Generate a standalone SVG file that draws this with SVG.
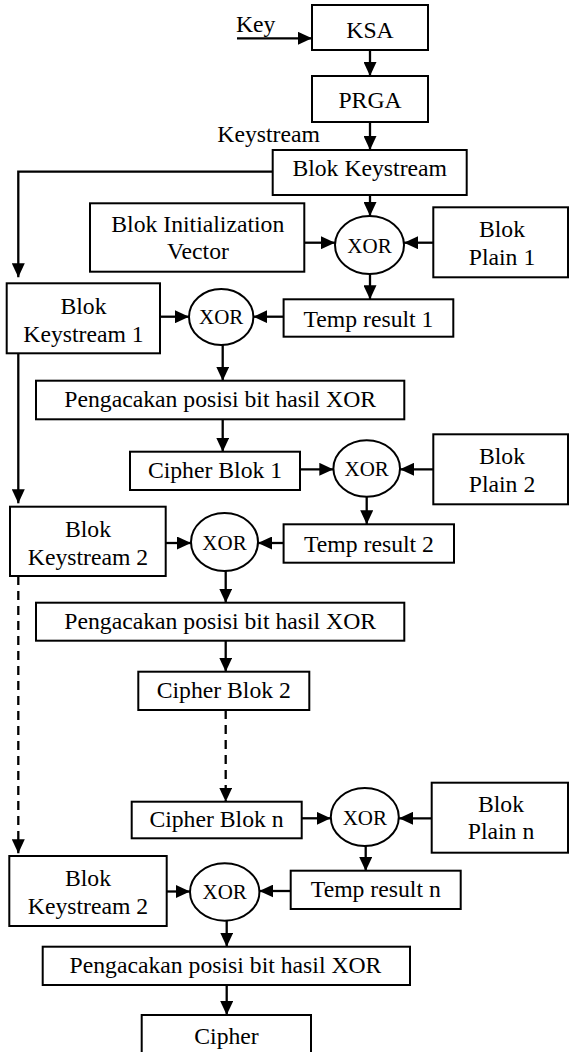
<svg xmlns="http://www.w3.org/2000/svg" width="570" height="1052" viewBox="0 0 570 1052" font-family="Liberation Serif, serif">
<style>
.box{fill:#fff;stroke:#000;stroke-width:2}
.t{font-family:"Liberation Serif",serif;font-size:23.7px;text-anchor:middle;fill:#000}
.x{font-size:21px}
.s{text-anchor:start}
.c{stroke:#000;stroke-width:2.3;fill:none;marker-end:url(#ah)}
.d{stroke-dasharray:9 6}
</style>
<defs>
<marker id="ah" markerUnits="userSpaceOnUse" markerWidth="14" markerHeight="13" refX="14" refY="6.5" orient="auto">
<path d="M0,0 L14,6.5 L0,13 z" fill="#000"/>
</marker>
</defs>
<rect width="570" height="1052" fill="#fff"/>
<g id="connectors">
<line class="c" x1="237" y1="38.3" x2="312" y2="38.3"/>
<line class="c" x1="370" y1="50" x2="370" y2="76"/>
<line class="c" x1="370" y1="122" x2="370" y2="150"/>
<line class="c" x1="370" y1="195" x2="370" y2="216"/>
<polyline class="c" points="272.7,171.7 18.3,171.7 18.3,277.3"/>
<line class="c" x1="304.3" y1="242.7" x2="335" y2="242.7"/>
<line class="c" x1="433.3" y1="242.7" x2="404" y2="242.7"/>
<line class="c" x1="370" y1="274" x2="370" y2="299.3"/>
<line class="c" x1="160" y1="316.7" x2="189" y2="316.7"/>
<line class="c" x1="283.6" y1="316.7" x2="253.3" y2="316.7"/>
<line class="c" x1="222.7" y1="345" x2="222.7" y2="380.7"/>
<line class="c" x1="222.7" y1="419.3" x2="222.7" y2="451.7"/>
<line class="c" x1="18.3" y1="353.3" x2="18.3" y2="503.3"/>
<line class="c" x1="300" y1="469.3" x2="333.3" y2="469.3"/>
<line class="c" x1="433.3" y1="469.3" x2="400" y2="469.3"/>
<line class="c" x1="366.7" y1="496.7" x2="366.7" y2="524.3"/>
<line class="c" x1="165.7" y1="543" x2="191" y2="543"/>
<line class="c" x1="283.6" y1="543" x2="258" y2="543"/>
<line class="c" x1="225.7" y1="571" x2="225.7" y2="602.7"/>
<line class="c" x1="225.7" y1="640.7" x2="225.7" y2="671.7"/>
<line class="c d" x1="225.7" y1="710" x2="225.7" y2="801.7"/>
<line class="c d" x1="18.3" y1="576" x2="18.3" y2="853.3"/>
<line class="c" x1="301.7" y1="818.3" x2="330.7" y2="818.3"/>
<line class="c" x1="431.7" y1="818.3" x2="399" y2="818.3"/>
<line class="c" x1="365.7" y1="846" x2="365.7" y2="871"/>
<line class="c" x1="166.7" y1="891.5" x2="190" y2="891.5"/>
<line class="c" x1="290.7" y1="891" x2="259.3" y2="891"/>
<line class="c" x1="226.7" y1="920.7" x2="226.7" y2="946.7"/>
<line class="c" x1="226.7" y1="985" x2="226.7" y2="1015"/>
</g>
<g id="labels">
<text class="t s" x="236" y="32">Key</text>
<text class="t s" x="217.3" y="141.7">Keystream</text>
</g>
<g id="ksa"><rect class="box" x="312" y="5" width="116" height="45"/><text class="t" x="370" y="37.5">KSA</text></g>
<g id="prga"><rect class="box" x="312" y="76" width="116" height="46"/><text class="t" x="370" y="108.3">PRGA</text></g>
<g id="blok-keystream"><rect class="box" x="272.7" y="150" width="194" height="45"/><text class="t" x="369.7" y="176">Blok Keystream</text></g>
<g id="blok-iv"><rect class="box" x="90" y="203.3" width="214.3" height="68.4"/><text class="t" x="197.8" y="231.7">Blok Initialization</text><text class="t" x="198" y="259.3">Vector</text></g>
<g id="xor1"><ellipse class="box" cx="369.5" cy="245" rx="34.5" ry="29"/><text class="t x" x="369.5" y="252.5">XOR</text></g>
<g id="blok-plain-1"><rect class="box" x="433.3" y="207.3" width="134.7" height="70"/><text class="t" x="502" y="236.7">Blok</text><text class="t" x="502" y="265">Plain 1</text></g>
<g id="blok-keystream-1"><rect class="box" x="6.7" y="283.3" width="153.3" height="70"/><text class="t" x="83.5" y="314">Blok</text><text class="t" x="83.5" y="341.7">Keystream 1</text></g>
<g id="xor2"><ellipse class="box" cx="221.2" cy="317" rx="32.2" ry="28"/><text class="t x" x="221.2" y="324">XOR</text></g>
<g id="temp-result-1"><rect class="box" x="283.6" y="299.3" width="169.7" height="37.4"/><text class="t" x="368.5" y="326.7">Temp result 1</text></g>
<g id="pengacakan-1"><rect class="box" x="36" y="380.7" width="368.3" height="38.6"/><text class="t" x="220.2" y="406.5">Pengacakan posisi bit hasil XOR</text></g>
<g id="cipher-blok-1"><rect class="box" x="130" y="451.7" width="170" height="38.3"/><text class="t" x="215" y="478.3">Cipher Blok 1</text></g>
<g id="xor3"><ellipse class="box" cx="366.7" cy="468.5" rx="33.3" ry="28.3"/><text class="t x" x="366.7" y="476">XOR</text></g>
<g id="blok-plain-2"><rect class="box" x="433.3" y="434.3" width="134.7" height="70"/><text class="t" x="502" y="464">Blok</text><text class="t" x="502" y="491.7">Plain 2</text></g>
<g id="blok-keystream-2"><rect class="box" x="10" y="506.7" width="155.7" height="69.3"/><text class="t" x="88" y="536.7">Blok</text><text class="t" x="88" y="565">Keystream 2</text></g>
<g id="xor5"><ellipse class="box" cx="224.5" cy="542" rx="33.5" ry="29"/><text class="t x" x="224.5" y="549.5">XOR</text></g>
<g id="temp-result-2"><rect class="box" x="283.6" y="524.3" width="170.4" height="38.4"/><text class="t" x="369" y="552">Temp result 2</text></g>
<g id="pengacakan-2"><rect class="box" x="36" y="602.7" width="368.3" height="38"/><text class="t" x="220.2" y="628.5">Pengacakan posisi bit hasil XOR</text></g>
<g id="cipher-blok-2"><rect class="box" x="138.3" y="671.7" width="171" height="38.3"/><text class="t" x="223.8" y="698.3">Cipher Blok 2</text></g>
<g id="cipher-blok-n"><rect class="box" x="131.7" y="801.7" width="170" height="36.6"/><text class="t" x="216.5" y="826.7">Cipher Blok n</text></g>
<g id="xor4"><ellipse class="box" cx="364.8" cy="817" rx="34" ry="29"/><text class="t x" x="364.8" y="824.5">XOR</text></g>
<g id="blok-plain-n"><rect class="box" x="431.7" y="782.7" width="136.3" height="70"/><text class="t" x="501" y="811.7">Blok</text><text class="t" x="501" y="839.3">Plain n</text></g>
<g id="blok-keystream-2b"><rect class="box" x="9.3" y="856" width="157.4" height="70"/><text class="t" x="88" y="886.3">Blok</text><text class="t" x="88" y="914">Keystream 2</text></g>
<g id="xor6"><ellipse class="box" cx="224.7" cy="892" rx="34.7" ry="28.7"/><text class="t x" x="224.7" y="899">XOR</text></g>
<g id="temp-result-n"><rect class="box" x="290.7" y="870.7" width="170" height="38.3"/><text class="t" x="375.8" y="896.7">Temp result n</text></g>
<g id="pengacakan-3"><rect class="box" x="42.7" y="946.7" width="367.3" height="38.3"/><text class="t" x="225.5" y="972.7">Pengacakan posisi bit hasil XOR</text></g>
<g id="cipher"><rect class="box" x="141.7" y="1015" width="169.3" height="50"/><text class="t" x="226.5" y="1044">Cipher</text></g>
</svg>
